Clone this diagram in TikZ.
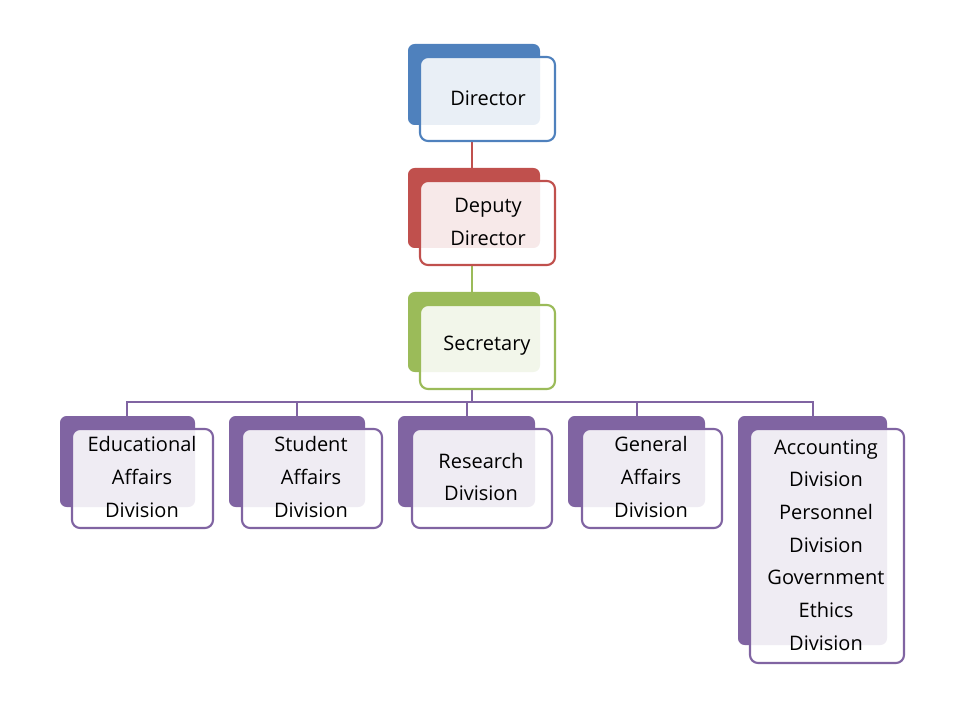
\documentclass[tikz,border=0pt]{standalone}
\usepackage{fontspec}
\setmainfont{Open Sans}
\definecolor{cblue}{HTML}{4F81BD}
\definecolor{cred}{HTML}{C0504D}
\definecolor{cgreen}{HTML}{9BBB59}
\definecolor{cpurp}{HTML}{8064A2}
\tikzset{
  backbox/.style={fill=#1, rounded corners=5pt},
  frontbox/.style={fill=white, fill opacity=0.88, draw=#1, line width=1.6pt, rounded corners=6pt, draw opacity=1},
  lbl/.style={align=center, font=\fontsize{15}{24.5}\selectfont, text=black},
  conn/.style={line width=1.6pt, draw=#1}
}
\begin{document}
\begin{tikzpicture}[x=0.75pt,y=-0.75pt]
\useasboundingbox (0,0) rectangle (960,720);
% unit box macro via direct draws
\newcommand{\orgbox}[9]{%
  \fill[backbox=#1] (#2,#3) rectangle (#4,#5);
  \draw[frontbox=#1] (#6,#7) rectangle (#8,#9);
}
% connectors
\coordinate (dirb) at (472,141);
\coordinate (deptop) at (472,181);
\coordinate (depb) at (472,265);
\coordinate (sectop) at (472,305);
\coordinate (secb) at (472,389);
\coordinate (busy) at (472,402);
\draw[conn=cred] (dirb) -- (deptop);
\draw[conn=cgreen] (depb) -- (sectop);
\draw[conn=cpurp] (secb) -- (busy);
\draw[conn=cpurp] (127,416) -- (127,402) -- (813,402) -- (813,416);
\foreach \x in {297,467,637} \draw[conn=cpurp] (\x,402) -- (\x,416);
\orgbox{cblue}{408}{44}{540}{125}{420}{57}{555}{141}
\orgbox{cred}{408}{168}{540}{248}{420}{181}{555}{265}
\orgbox{cgreen}{408}{292}{540}{372}{420}{305}{555}{389}
\orgbox{cpurp}{60}{416}{195}{507}{72}{429}{213}{528}
\orgbox{cpurp}{229}{416}{365}{507}{242}{429}{382}{528}
\orgbox{cpurp}{398}{416}{535}{507}{412}{429}{552}{528}
\orgbox{cpurp}{568}{416}{705}{507}{582}{429}{722}{528}
\orgbox{cpurp}{738}{416}{887}{645}{750}{429}{904}{663}
\node[lbl] (dir) at (488,98) {Director};
\node[lbl] (dep) at (488,222) {Deputy\\Director};
\node[lbl] (sec) at (487,346) {Secretary};
\node[lbl] (edu) at (142,477) {Educational\\Affairs\\Division};
\node[lbl] (stu) at (311,477) {Student\\Affairs\\Division};
\node[lbl] (res) at (481,477) {Research\\Division};
\node[lbl] (gen) at (651,477) {General\\Affairs\\Division};
\node[lbl] (acc) at (826,545) {Accounting\\Division\\Personnel\\Division\\Government\\Ethics\\Division};
\end{tikzpicture}
\end{document}
